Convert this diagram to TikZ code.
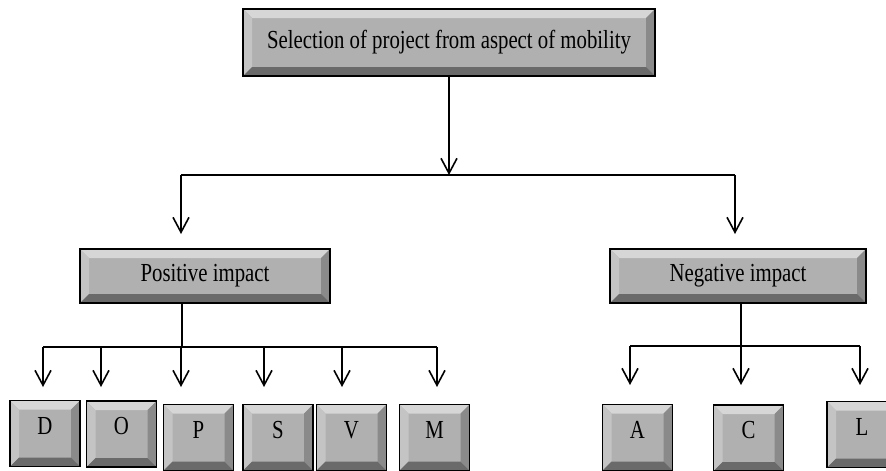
\documentclass[tikz,border=0pt]{standalone}
\usepackage{fontspec}
\newfontfamily\boxfont[FakeStretch=0.8]{Liberation Serif}
\usetikzlibrary{arrows.meta}
\definecolor{bxFace}{HTML}{B0B0B0}
\definecolor{bxLight}{HTML}{D6D6D6}
\definecolor{bxSide}{HTML}{C4C4C4}
\definecolor{bxShade}{HTML}{8A8A8A}
\definecolor{bxDark}{HTML}{6A6A6A}
\newcommand{\bevw}{9pt}
\tikzset{
  bevel/.style={draw=black, line width=1.8pt, fill=bxFace, inner sep=0pt,
                font=\boxfont\fontsize{26}{30}\selectfont,
                path picture={
                  \path (path picture bounding box.north west) coordinate (bNW)
                        (path picture bounding box.south east) coordinate (bSE);
                  \fill[bxLight] (bNW) -- (bNW -| bSE) -- ++(-\bevw,-\bevw)
                    -- ([shift={(\bevw,-\bevw)}]bNW) -- cycle;
                  \fill[bxSide] (bNW) -- ([shift={(\bevw,-\bevw)}]bNW)
                    -- ([shift={(\bevw,\bevw)}]bNW |- bSE) -- (bNW |- bSE) -- cycle;
                  \fill[bxShade] (bNW -| bSE) -- (bSE) -- ++(-\bevw,\bevw)
                    -- ([shift={(-\bevw,-\bevw)}]bNW -| bSE) -- cycle;
                  \fill[bxDark] (bNW |- bSE) -- (bSE) -- ++(-\bevw,\bevw)
                    -- ([shift={(\bevw,\bevw)}]bNW |- bSE) -- cycle;
                }},
  key/.style={bevel, minimum width=70pt, minimum height=66pt, text depth=16pt},
  link/.style={line width=1.6pt, draw=black},
  flow/.style={link, -{Straight Barb[length=15pt, width=16pt]}},
}
\begin{document}
\begin{tikzpicture}[x=1pt, y=-1pt]
  \useasboundingbox (0,0) rectangle (886,471);

  \node[bevel, minimum width=412pt, minimum height=67pt] (sel) at (449,42.5)
    {Selection of project from aspect of mobility};
  \node[bevel, minimum width=250pt, minimum height=54pt] (pos) at (205,276) {Positive impact};
  \node[bevel, minimum width=256pt, minimum height=54pt] (neg) at (738,276) {Negative impact};

  \node[key] (D) at (45,433.5) {D};
  \node[key] (O) at (121.5,434) {O};
  \node[key] (P) at (198.5,437.5) {P};
  \node[key] (S) at (278,437.5) {S};
  \node[key] (V) at (351.5,437.5) {V};
  \node[key] (M) at (434.5,437.5) {M};
  \node[key] (A) at (637.5,437.5) {A};
  \node[key] (C) at (748.5,438) {C};
  \node[key] (L) at (862,434.5) {L};

  % junctions and arrow ends
  \coordinate (selJ) at (449,175);
  \coordinate (pos-in) at (181,234);
  \coordinate (neg-in) at (735,234);
  \coordinate (posJ) at (182,347);
  \coordinate (negJ) at (741,346);
  \coordinate (D-in) at (43,387);
  \coordinate (O-in) at (101,387);
  \coordinate (P-in) at (181,387);
  \coordinate (S-in) at (264,387);
  \coordinate (V-in) at (342,387);
  \coordinate (M-in) at (437,387);
  \coordinate (A-in) at (630,385);
  \coordinate (C-in) at (741,385);
  \coordinate (L-in) at (860,385);

  \draw[flow] (sel.south) -- (selJ);
  \draw[link] (pos-in |- selJ) -- (neg-in |- selJ);
  \draw[flow] (pos-in |- selJ) -- (pos-in);
  \draw[flow] (neg-in |- selJ) -- (neg-in);

  \draw[link] (pos.south -| posJ) -- (posJ);
  \draw[link] (D-in |- posJ) -- (M-in |- posJ);
  \foreach \k in {D,O,P,S,V,M}
    \draw[flow] (\k-in |- posJ) -- (\k-in);

  \draw[link] (neg.south -| negJ) -- (negJ);
  \draw[link] (A-in |- negJ) -- (L-in |- negJ);
  \foreach \k in {A,C,L}
    \draw[flow] (\k-in |- negJ) -- (\k-in);
\end{tikzpicture}
\end{document}
